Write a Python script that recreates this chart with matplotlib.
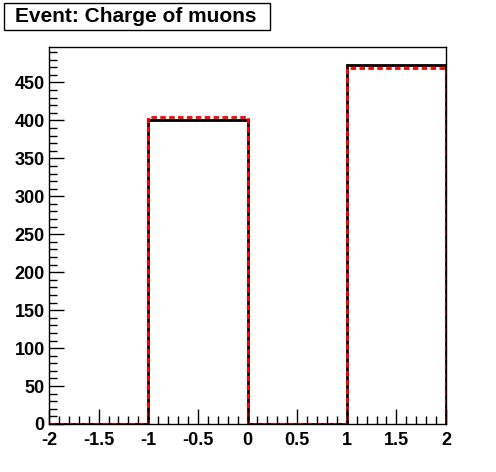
import matplotlib
matplotlib.use("Agg")
import matplotlib.pyplot as plt
from matplotlib.ticker import MultipleLocator
from matplotlib.patches import Rectangle
import numpy as np

# charge of muons, 4 bins from -2 to 2
bin_edges = [-2, -1, 0, 1, 2]
counts_black = [0, 400, 0, 473]
counts_red = [0, 404, 0, 469]
title = "Event: Charge of muons"

plt.rcParams['font.family'] = ['Liberation Sans', 'DejaVu Sans']
plt.rcParams['font.weight'] = 'bold'

W, H = 496, 472
fig = plt.figure(figsize=(W/100, H/100), dpi=100)
ax = fig.add_axes([49/W, 1 - 424/H, (446 - 49)/W, (424 - 47)/H])

ax.stairs(counts_black, bin_edges, color='black', linewidth=2)
ax.stairs(counts_red, bin_edges, color='red', linewidth=2, linestyle=(0, (2, 1.2)))

ax.set_xlim(-2, 2)
ax.set_ylim(0, 1.05 * max(counts_black))

ax.xaxis.set_major_locator(MultipleLocator(0.5))
ax.xaxis.set_minor_locator(MultipleLocator(0.1))
ax.yaxis.set_major_locator(MultipleLocator(50))
ax.yaxis.set_minor_locator(MultipleLocator(10))
ax.tick_params(which='both', direction='in', top=False, right=False, width=1)
ax.tick_params(which='major', length=11, labelsize=13)
ax.tick_params(axis='x', which='major', pad=6)
ax.tick_params(axis='y', which='major', pad=3)
ax.tick_params(which='minor', length=5.5)
for lab in ax.get_xticklabels() + ax.get_yticklabels():
    lab.set_fontweight('bold')
ax.xaxis.set_major_formatter(plt.FuncFormatter(lambda v, p: f"{v:g}"))
for s in ax.spines.values():
    s.set_linewidth(1)

# title box (ROOT style pave)
fig.patches.append(Rectangle((4/W, 1 - 30/H), 266/W, 27/H, transform=fig.transFigure,
                             facecolor='white', edgecolor='black', linewidth=1))
fig.text(15/W, 1 - 17/H, title, fontsize=15, fontweight='bold', va='center', ha='left')

fig.savefig("out.png", dpi=100)
